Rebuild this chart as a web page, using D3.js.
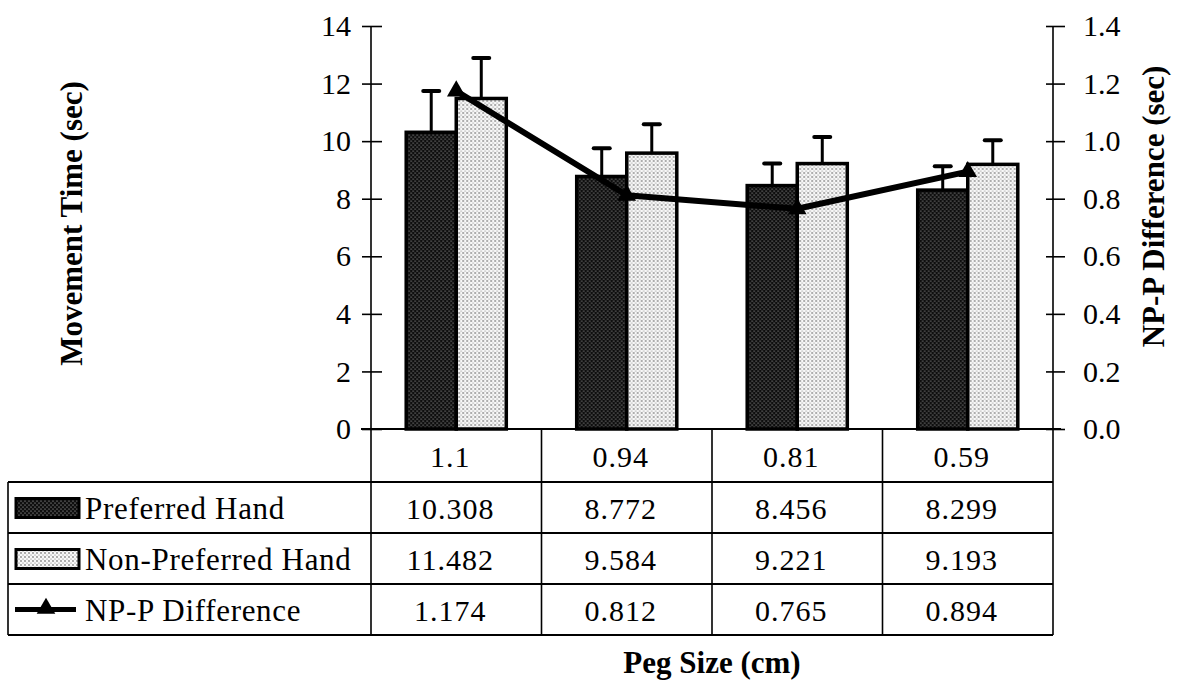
<!DOCTYPE html>
<html>
<head>
<meta charset="utf-8">
<script src="https://cdn.jsdelivr.net/npm/d3@7"></script>
<style>
  html, body { margin: 0; padding: 0; background: #fff; }
  svg { display: block; }
  text { font-family: "Liberation Serif", "Times New Roman", serif; fill: #000; }
</style>
</head>
<body>
<svg id="chart" width="1183" height="686"></svg>
<script>
// ---- data ----
const categories = ["1.1", "0.94", "0.81", "0.59"];
const preferred = [10.308, 8.772, 8.456, 8.299];
const nonPreferred = [11.482, 9.584, 9.221, 9.193];
const difference = [1.174, 0.812, 0.765, 0.894];
const preferredErr = [1.43, 0.98, 0.77, 0.83];
const nonPreferredErr = [1.41, 1.0, 0.92, 0.84];
const leftTicks = [0, 2, 4, 6, 8, 10, 12, 14];
const rightTicks = [0, 0.2, 0.4, 0.6, 0.8, 1.0, 1.2, 1.4];
const seriesNames = ["Preferred Hand", "Non-Preferred Hand", "NP-P Difference"];
const preferredLabels = ["10.308", "8.772", "8.456", "8.299"];
const nonPreferredLabels = ["11.482", "9.584", "9.221", "9.193"];
const differenceLabels = ["1.174", "0.812", "0.765", "0.894"];

// ---- layout ----
const svg = d3.select("#chart");
const plotL = 371, plotR = 1053, plotT = 26, plotB = 429;
const tableL = 8;
const rowY = [429, 482, 533, 584, 635];

const x = d3.scaleBand().domain(categories).range([plotL, plotR]).paddingInner(0.413).paddingOuter(0.2065);
const xCat = d3.scaleBand().domain(categories).range([plotL, plotR]).padding(0);
const sub = d3.scaleBand().domain(["p", "n"]).range([0, x.bandwidth()]).padding(0);
const yL = d3.scaleLinear().domain([0, 14]).range([plotB, plotT]);
const yR = d3.scaleLinear().domain([0, 1.4]).range([plotB, plotT]);

// ---- patterns ----
const defs = svg.append("defs");
const pd = defs.append("pattern").attr("id", "darkPat").attr("patternUnits", "userSpaceOnUse")
  .attr("width", 4).attr("height", 4);
pd.append("rect").attr("width", 4).attr("height", 4).attr("fill", "#0e0e0e");
pd.append("circle").attr("cx", 1).attr("cy", 1).attr("r", 0.6).attr("fill", "#c8c8c8");
pd.append("circle").attr("cx", 3).attr("cy", 3).attr("r", 0.6).attr("fill", "#c8c8c8");
const pl = defs.append("pattern").attr("id", "lightPat").attr("patternUnits", "userSpaceOnUse")
  .attr("width", 4).attr("height", 4);
pl.append("rect").attr("width", 4).attr("height", 4).attr("fill", "#f8f8f8");
pl.append("circle").attr("cx", 1).attr("cy", 1).attr("r", 0.65).attr("fill", "#222");
pl.append("circle").attr("cx", 3).attr("cy", 3).attr("r", 0.5).attr("fill", "#555");

// ---- bars ----
const groups = svg.append("g").selectAll("g").data(categories).join("g")
  .attr("transform", d => `translate(${x(d)},0)`);

function drawSeries(key, vals, errs, fill) {
  groups.append("line")
    .attr("x1", (d, i) => sub(key) + sub.bandwidth() / 2)
    .attr("x2", (d, i) => sub(key) + sub.bandwidth() / 2)
    .attr("y1", (d, i) => yL(vals[i]))
    .attr("y2", (d, i) => yL(vals[i] + errs[i]))
    .attr("stroke", "#000").attr("stroke-width", 3);
  groups.append("line")
    .attr("x1", (d, i) => sub(key) + sub.bandwidth() / 2 - 8)
    .attr("x2", (d, i) => sub(key) + sub.bandwidth() / 2 + 8)
    .attr("y1", (d, i) => yL(vals[i] + errs[i]))
    .attr("y2", (d, i) => yL(vals[i] + errs[i]))
    .attr("stroke", "#000").attr("stroke-width", 4).attr("stroke-linecap", "round");
  groups.append("rect")
    .attr("x", sub(key))
    .attr("y", (d, i) => yL(vals[i]))
    .attr("width", sub.bandwidth())
    .attr("height", (d, i) => yL(0) - yL(vals[i]))
    .attr("fill", fill).attr("stroke", "#000").attr("stroke-width", 3.5);
}
drawSeries("p", preferred, preferredErr, "url(#darkPat)");
drawSeries("n", nonPreferred, nonPreferredErr, "url(#lightPat)");

// ---- line ----
const lineGen = d3.line().x((d, i) => x(categories[i]) + x.bandwidth() / 2).y(d => yR(d));
svg.append("path").datum(difference).attr("d", lineGen)
  .attr("fill", "none").attr("stroke", "#000").attr("stroke-width", 6).attr("stroke-linejoin", "round");
const tri = d3.symbol().type(d3.symbolTriangle).size(150);
svg.append("g").selectAll("path").data(difference).join("path")
  .attr("d", tri)
  .attr("transform", (d, i) => `translate(${x(categories[i]) + x.bandwidth() / 2},${yR(d)})`)
  .attr("fill", "#000");

// ---- axes ----
const axL = svg.append("g").attr("transform", `translate(${plotL},0)`)
  .call(d3.axisLeft(yL).tickValues(leftTicks).tickSizeInner(9).tickSizeOuter(0).tickPadding(14)
    .tickFormat(d3.format("d")));
axL.select(".domain").remove();
axL.selectAll(".tick line").attr("x1", 11).attr("stroke-width", 1.6);
axL.selectAll(".tick text").attr("font-size", 30).attr("font-family", "Liberation Serif").attr("x", -20);
axL.append("line").attr("x1", 0).attr("x2", 0).attr("y1", plotT).attr("y2", rowY[4])
  .attr("stroke", "#000").attr("stroke-width", 1.6);

const axR = svg.append("g").attr("transform", `translate(${plotR},0)`)
  .call(d3.axisRight(yR).tickValues(rightTicks).tickSizeInner(12).tickSizeOuter(0).tickPadding(18)
    .tickFormat(d3.format(".1f")));
axR.select(".domain").remove();
axR.selectAll(".tick line").attr("x1", -7).attr("stroke-width", 1.6);
axR.selectAll(".tick text").attr("font-size", 30).attr("font-family", "Liberation Serif").attr("x", 30);
axR.append("line").attr("x1", 0).attr("x2", 0).attr("y1", plotT).attr("y2", rowY[4])
  .attr("stroke", "#000").attr("stroke-width", 1.6);

// x axis / table top
svg.append("line").attr("x1", plotL - 10).attr("x2", plotR + 8).attr("y1", plotB).attr("y2", plotB)
  .attr("stroke", "#000").attr("stroke-width", 2);

// ---- table ----
const tbl = svg.append("g");
[1, 2, 3, 4].forEach(k => {
  tbl.append("line").attr("x1", tableL).attr("x2", plotR).attr("y1", rowY[k]).attr("y2", rowY[k])
    .attr("stroke", "#000").attr("stroke-width", 2);
});
tbl.append("line").attr("x1", tableL).attr("x2", tableL).attr("y1", rowY[1]).attr("y2", rowY[4])
  .attr("stroke", "#000").attr("stroke-width", 1.6);
tbl.selectAll("line.vsep").data(categories.slice(1)).join("line").attr("class", "vsep")
  .attr("x1", d => xCat(d)).attr("x2", d => xCat(d)).attr("y1", rowY[0]).attr("y2", rowY[4])
  .attr("stroke", "#000").attr("stroke-width", 1.6);

const rowsText = [categories, preferredLabels, nonPreferredLabels, differenceLabels];
rowsText.forEach((row, r) => {
  tbl.append("g").selectAll("text").data(row).join("text")
    .attr("x", (d, i) => xCat(categories[i]) + xCat.bandwidth() / 2 - 6)
    .attr("y", (rowY[r] + rowY[r + 1]) / 2 + 11)
    .attr("text-anchor", "middle").attr("font-size", 30).attr("letter-spacing", 1)
    .text(d => d);
});

// legend column
seriesNames.forEach((name, k) => {
  const cy = (rowY[k + 1] + rowY[k + 2]) / 2;
  tbl.append("text").attr("x", 85).attr("y", cy + 11).attr("font-size", 31).attr("letter-spacing", 0.7).text(name);
});
const cy1 = (rowY[1] + rowY[2]) / 2, cy2 = (rowY[2] + rowY[3]) / 2, cy3 = (rowY[3] + rowY[4]) / 2;
tbl.append("rect").attr("x", 16).attr("y", cy1 - 9).attr("width", 63).attr("height", 19)
  .attr("fill", "url(#darkPat)").attr("stroke", "#000").attr("stroke-width", 3);
tbl.append("rect").attr("x", 16).attr("y", cy2 - 9).attr("width", 63).attr("height", 19)
  .attr("fill", "url(#lightPat)").attr("stroke", "#000").attr("stroke-width", 3);
tbl.append("line").attr("x1", 15).attr("x2", 76).attr("y1", cy3).attr("y2", cy3)
  .attr("stroke", "#000").attr("stroke-width", 5);
tbl.append("path").attr("d", tri).attr("transform", `translate(46,${cy3 - 1})`).attr("fill", "#000");

// ---- axis titles ----
svg.append("text").attr("transform", `translate(82,${(plotT + plotB) / 2 - 4}) rotate(-90)`)
  .attr("text-anchor", "middle").attr("font-size", 31).attr("font-weight", "bold")
  .text("Movement Time (sec)");
svg.append("text").attr("transform", `translate(1164,${(plotT + plotB) / 2 - 21}) rotate(-90)`)
  .attr("text-anchor", "middle").attr("font-size", 31).attr("font-weight", "bold")
  .text("NP-P Difference (sec)");
svg.append("text").attr("x", (plotL + plotR) / 2).attr("y", 673)
  .attr("text-anchor", "middle").attr("font-size", 31).attr("font-weight", "bold")
  .text("Peg Size (cm)");
</script>
</body>
</html>
